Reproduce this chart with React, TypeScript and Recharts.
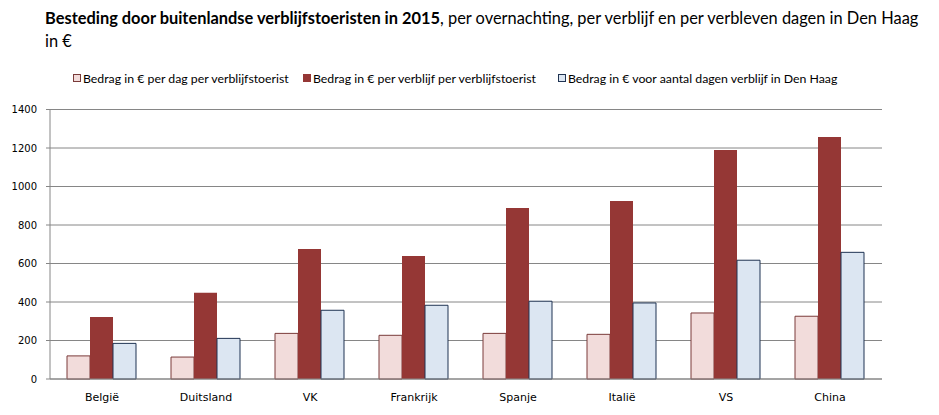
import React from "react";
import { BarChart, Bar, XAxis, YAxis, CartesianGrid } from "recharts";

const categories = ["België", "Duitsland", "VK", "Frankrijk", "Spanje", "Italië", "VS", "China"];
const perDag = [120, 114, 237, 227, 237, 232, 343, 326];
const perVerblijf = [322, 448, 675, 639, 888, 925, 1190, 1257];
const denHaag = [185, 211, 357, 383, 404, 395, 617, 658];
const yTicks = [0, 200, 400, 600, 800, 1000, 1200, 1400];
const boundaryTicks = [0, 1, 2, 3, 4, 5, 6, 7, 8];

const titleBold = "Besteding door buitenlandse verblijfstoeristen in 2015";
const titleRest = ", per overnachting, per verblijf en per verbleven dagen in Den Haag";
const titleLine2 = "in €";

const seriesNames = [
  "Bedrag in € per dag per verblijfstoerist",
  "Bedrag in € per verblijf per verblijfstoerist",
  "Bedrag in € voor aantal dagen verblijf in Den Haag",
];
const legendX = [73, 303, 558];
const fills = ["#F2DCDB", "#953735", "#DCE6F2"];
const strokes = ["#7a3b3a", "#953735", "#1f3352"];

const data = categories.map((c, i) => ({
  name: c,
  a: perDag[i],
  b: perVerblijf[i],
  c: denHaag[i],
}));

const humanist = "Lato, 'Open Sans', 'Liberation Sans', sans-serif";
const tickFont = "'DejaVu Sans', Verdana, sans-serif";

export default function App() {
  return (
    <div style={{ position: "absolute", left: 0, top: 0, width: 939, height: 415, background: "#fff" }}>
      <div
        style={{
          position: "absolute",
          left: 45,
          top: 6,
          whiteSpace: "nowrap",
          fontFamily: humanist,
          fontSize: 16.4,
          lineHeight: "23px",
          color: "#000",
        }}
      >
        <div>
          <b>{titleBold}</b>
          {titleRest}
        </div>
        <div>{titleLine2}</div>
      </div>
      {seriesNames.map((n, i) => (
        <div
          key={n}
          style={{
            position: "absolute",
            left: legendX[i],
            top: 70,
            height: 16,
            display: "flex",
            alignItems: "center",
            whiteSpace: "nowrap",
            fontFamily: humanist,
            fontSize: 12.3,
            color: "#000",
          }}
        >
          <span
            style={{
              display: "inline-block",
              width: 6,
              height: 6,
              background: fills[i],
              border: `1px solid ${strokes[i]}`,
              marginRight: 2,
            }}
          />
          <span>{n}</span>
        </div>
      ))}
      <div style={{ position: "absolute", left: 0, top: 0 }}>
        <BarChart
          width={939}
          height={415}
          data={data}
          margin={{ top: 109.5, right: 57, bottom: 0, left: 0 }}
          barCategoryGap={17}
          barGap={0}
        >
          <CartesianGrid vertical={false} stroke="#868686" strokeWidth={1} />
          <XAxis
            dataKey="name"
            xAxisId="cat"
            height={36}
            tickLine={false}
            axisLine={{ stroke: "#868686" }}
            tick={{ fontFamily: tickFont, fontSize: 11, fill: "#000" }}
            tickMargin={8}
            interval={0}
          />
          <XAxis
            xAxisId="bnd"
            type="number"
            domain={[0, 8]}
            ticks={boundaryTicks}
            height={0}
            axisLine={false}
            tick={false}
            tickSize={5}
            tickLine={{ stroke: "#868686" }}
          />
          <YAxis
            width={50}
            domain={[0, 1400]}
            ticks={yTicks}
            interval={0}
            axisLine={{ stroke: "#868686" }}
            tickLine={{ stroke: "#868686" }}
            tickSize={4}
            tickMargin={9}
            tick={{ fontFamily: tickFont, fontSize: 10, fill: "#000" }}
          />
          <Bar xAxisId="cat" dataKey="a" name={seriesNames[0]} fill={fills[0]} stroke={strokes[0]} strokeWidth={1} isAnimationActive={false} />
          <Bar xAxisId="cat" dataKey="b" name={seriesNames[1]} fill={fills[1]} isAnimationActive={false} />
          <Bar xAxisId="cat" dataKey="c" name={seriesNames[2]} fill={fills[2]} stroke={strokes[2]} strokeWidth={1} isAnimationActive={false} />
        </BarChart>
      </div>
    </div>
  );
}
